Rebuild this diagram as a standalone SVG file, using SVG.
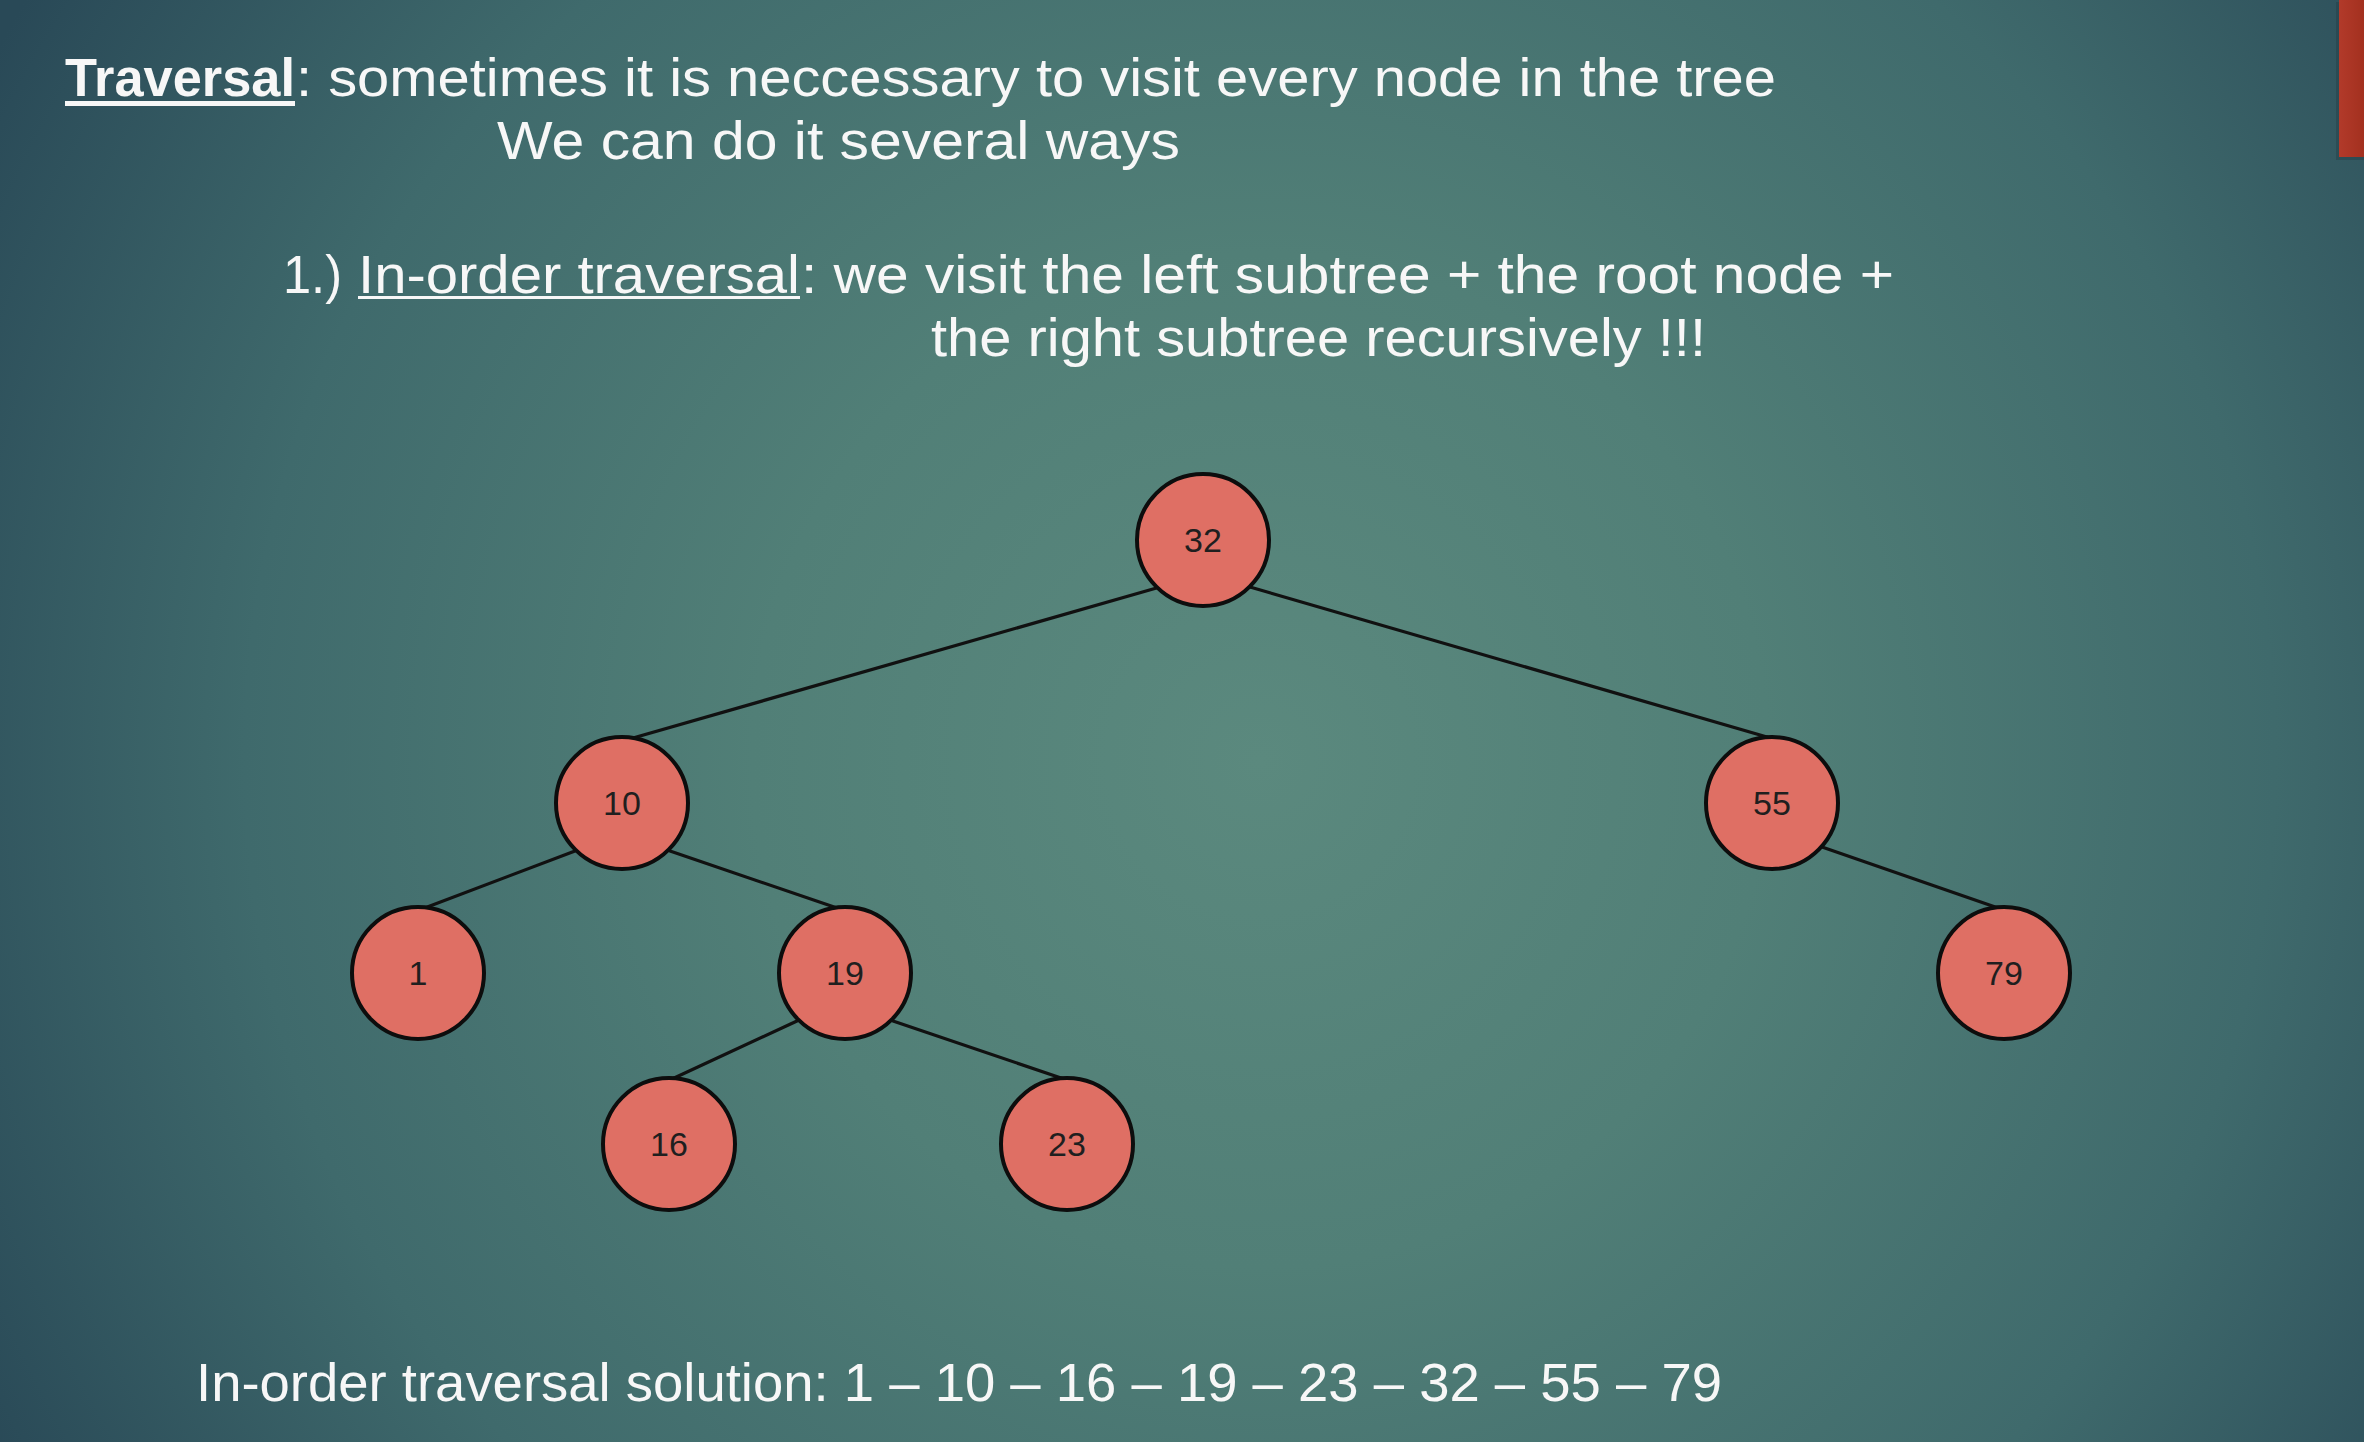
<svg xmlns="http://www.w3.org/2000/svg" width="2364" height="1442" viewBox="0 0 2364 1442">
<defs>
<radialGradient id="bg" gradientUnits="userSpaceOnUse" cx="1260" cy="760" r="1450">
<stop offset="0" stop-color="#5b897e"/>
<stop offset="0.35" stop-color="#517f77"/>
<stop offset="0.7" stop-color="#3f6a6c"/>
<stop offset="1" stop-color="#294957"/>
</radialGradient>
<linearGradient id="redbar" x1="0" y1="0" x2="1" y2="0">
<stop offset="0" stop-color="#b23a2a"/>
<stop offset="1" stop-color="#a3301f"/>
</linearGradient>
<style>
.t{font-family:"Liberation Sans",Arial,sans-serif;font-size:54px;fill:#f7f7f7;}
.b{font-weight:bold;}
.node circle{fill:#df6f64;stroke:#0d0d0d;stroke-width:4;}
.node text{font-family:"Liberation Sans",Arial,sans-serif;font-size:34px;fill:#1f1f1f;text-anchor:middle;}
#edges line{stroke:#111;stroke-width:3.2;stroke-linecap:round;}
.ul{fill:#f7f7f7;}
</style>
</defs>
<rect x="0" y="0" width="2364" height="1442" fill="url(#bg)"/>
<rect x="2336" y="2" width="28" height="158" fill="#1f3640" opacity="0.35"/>
<rect x="2339" y="0" width="25" height="157" fill="url(#redbar)"/>

<g id="title">
<text class="t b" x="65" y="96" textLength="230" lengthAdjust="spacingAndGlyphs">Traversal</text>
<rect class="ul" x="65" y="101" width="230" height="5"/>
<text class="t" x="296" y="96" textLength="1480" lengthAdjust="spacingAndGlyphs">: sometimes it is neccessary to visit every node in the tree</text>
<text class="t" x="497" y="159" textLength="683" lengthAdjust="spacingAndGlyphs">We can do it several ways</text>
<text class="t" x="283" y="293" textLength="59" lengthAdjust="spacingAndGlyphs">1.)</text>
<text class="t" x="358" y="293" textLength="442" lengthAdjust="spacingAndGlyphs">In-order traversal</text>
<rect class="ul" x="358" y="296" width="442" height="3"/>
<text class="t" x="801" y="293" textLength="1093" lengthAdjust="spacingAndGlyphs">: we visit the left subtree + the root node +</text>
<text class="t" x="931" y="356" textLength="775" lengthAdjust="spacingAndGlyphs">the right subtree recursively !!!</text>
<text class="t" x="196" y="1401" textLength="1526" lengthAdjust="spacingAndGlyphs">In-order traversal solution: 1 – 10 – 16 – 19 – 23 – 32 – 55 – 79</text>
</g>

<g id="edges">
<line x1="1160" y1="587" x2="626" y2="740"/>
<line x1="1250" y1="587" x2="1767" y2="737"/>
<line x1="575" y1="851" x2="422" y2="909"/>
<line x1="670" y1="851" x2="840" y2="909"/>
<line x1="1822" y1="847" x2="2001" y2="909"/>
<line x1="797" y1="1021" x2="672" y2="1079"/>
<line x1="893" y1="1021" x2="1064" y2="1079"/>
</g>

<g id="n32" class="node"><circle cx="1203" cy="540" r="66"/><text x="1203" y="552">32</text></g>
<g id="n10" class="node"><circle cx="622" cy="803" r="66"/><text x="622" y="815">10</text></g>
<g id="n55" class="node"><circle cx="1772" cy="803" r="66"/><text x="1772" y="815">55</text></g>
<g id="n1" class="node"><circle cx="418" cy="973" r="66"/><text x="418" y="985">1</text></g>
<g id="n19" class="node"><circle cx="845" cy="973" r="66"/><text x="845" y="985">19</text></g>
<g id="n79" class="node"><circle cx="2004" cy="973" r="66"/><text x="2004" y="985">79</text></g>
<g id="n16" class="node"><circle cx="669" cy="1144" r="66"/><text x="669" y="1156">16</text></g>
<g id="n23" class="node"><circle cx="1067" cy="1144" r="66"/><text x="1067" y="1156">23</text></g>
</svg>
